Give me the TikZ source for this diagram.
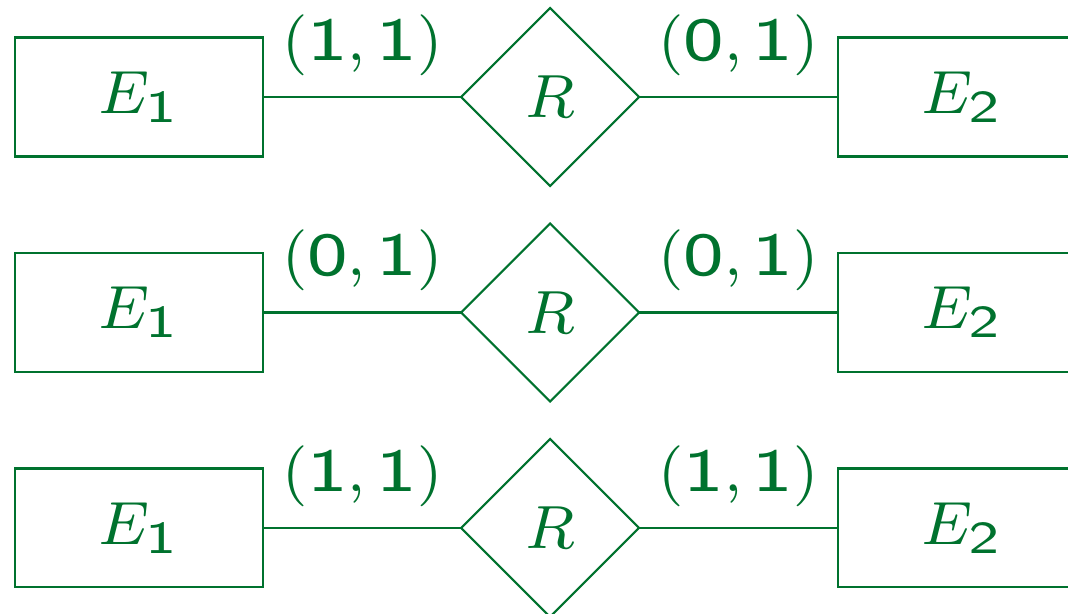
\documentclass[tikz,border=0pt]{standalone}
\usepackage{amsmath}
\usepackage{graphicx}
\usepackage{tikz}
\usetikzlibrary{shapes.geometric}
\definecolor{ergreen}{RGB}{0,114,46}
\tikzset{
  entitybox/.style={draw, rectangle, minimum width=1.143cm, minimum height=0.548cm, inner sep=0pt, outer sep=0pt},
  relbox/.style={draw, diamond, minimum width=0.820cm, minimum height=0.820cm, inner sep=0pt, outer sep=0pt},
  cardlabel/.style={midway, above=0.088cm, inner sep=0pt}
}
\newcommand{\sfn}[1]{\text{\scalebox{1.25}[1]{$\mathsf{#1}$}}}

\begin{document}
\begin{tikzpicture}[scale=2.17, every node/.style={transform shape}, ergreen, line width=0.6pt, font=\fontsize{8}{9.6}\selectfont]
          \useasboundingbox (0,0) rectangle (4.922,-2.829);
          \foreach \y/\a/\b [count=\i] in {0.447/1/0, 1.440/0/0, 2.433/1/1} {
            % entities and relationship
            \node[entitybox] (ea\i) at (0.641,-\y) {$E_{\sfn{1}}$};
            \node[relbox] (r\i) at (2.535,-\y) {$R$};
            \node[entitybox] (eb\i) at (4.433,-\y) {$E_{\sfn{2}}$};
            % lines between entities and relationship
            \draw (ea\i.east) -- (r\i.west) node[cardlabel] {$(\sfn{\a},\sfn{1})$};
            \draw (r\i.east) -- (eb\i.west) node[cardlabel] {$(\sfn{\b},\sfn{1})$};
          }
        \end{tikzpicture}
\end{document}
